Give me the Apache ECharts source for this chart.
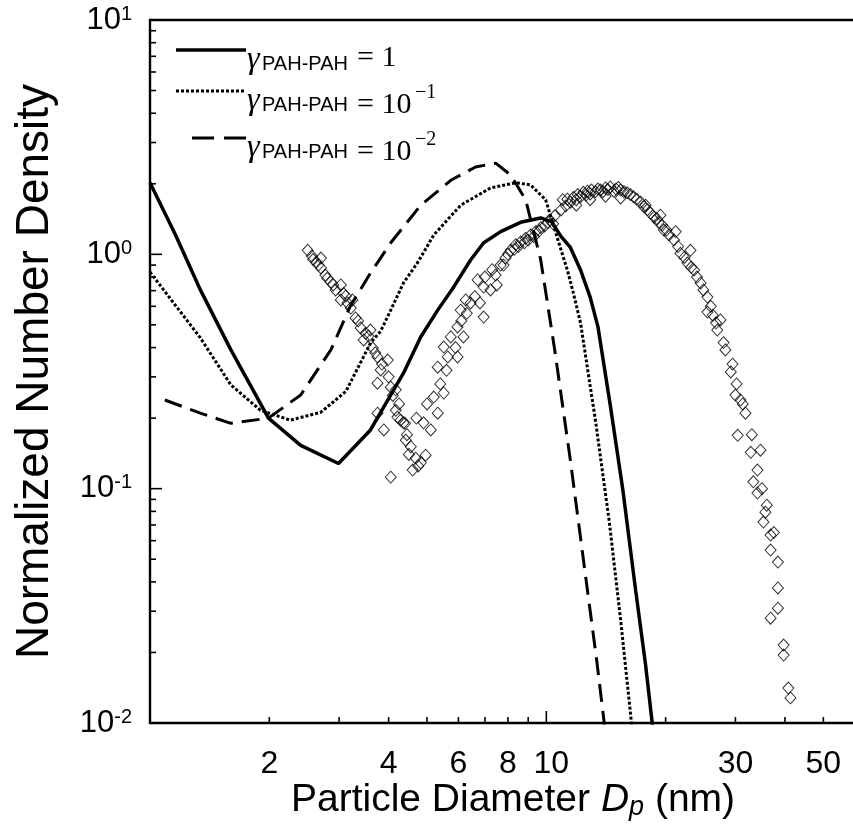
<!DOCTYPE html>
<html><head><meta charset="utf-8">
<script src="https://cdn.jsdelivr.net/npm/echarts@6/dist/echarts.min.js"></script>
<style>html,body{margin:0;padding:0;background:#fff}#c{width:853px;height:839px}</style>
</head><body><div id="c"></div>
<script>
// ---- tick definitions ----
const xMinorTicks = [2, 3, 4, 5, 6, 7, 8, 9, 20, 30, 40, 50];
const xMajorTicks = [10];
const xTickLabels = [2, 4, 6, 8, 10, 30, 50];
const yMinorTicks = [0.02,0.03,0.04,0.05,0.06,0.07,0.08,0.09,0.2,0.3,0.4,0.5,0.6,0.7,0.8,0.9,2,3,4,5,6,7,8,9];
const yMajorTicks = [0.1, 1];

// ---- legend labels ----
const legendSub = 'PAH-PAH';
const legendValues = ['= 1', '= 10', '= 10'];
const legendExps = ['', '\u22121', '\u22122'];

// ---- model curves (Dp nm, normalized number density) ----
const gamma1 = [[1.00,2.02],[1.16,1.21],[1.34,0.705],[1.60,0.391],[1.99,0.200],[2.40,0.153],[2.99,0.128],
  [3.60,0.178],[4.36,0.311],[4.82,0.444],[5.32,0.578],[5.84,0.726],[6.44,0.946],[6.95,1.12],[7.67,1.25],
  [8.61,1.37],[9.68,1.43],[10.3,1.38],[10.9,1.19],[11.5,1.07],[12.2,0.857],[12.9,0.657],[13.5,0.490],
  [14.5,0.227],[15.6,0.0986],[16.8,0.0369],[17.8,0.0177],[18.5,0.0100],[18.8,0.008]];
const gamma01 = [[1.00,0.84],[1.34,0.440],[1.60,0.277],[1.90,0.216],[2.26,0.196],[2.70,0.212],[3.12,0.260],
  [3.60,0.418],[3.82,0.47],[4.05,0.578],[4.36,0.755],[4.75,0.93],[5.20,1.21],[6.08,1.62],[7.23,1.92],
  [8.37,2.02],[9.12,1.98],[9.96,1.71],[10.9,1.04],[11.3,0.857],[11.7,0.684],[12.2,0.509],[13.3,0.196],
  [14.4,0.0734],[15.4,0.0275],[16.4,0.0100],[16.6,0.008]];
const gamma001 = [[1.09,0.239],[1.34,0.210],[1.60,0.190],[1.99,0.200],[2.40,0.251],[2.86,0.391],[3.20,0.60],
  [3.60,0.832],[4.05,1.12],[4.82,1.62],[5.74,2.07],[6.63,2.36],[7.45,2.45],[8.13,2.18],[8.87,1.71],
  [9.68,0.946],[10.5,0.391],[11.5,0.132],[12.6,0.0407],[13.4,0.0185],[14.0,0.0100],[14.1,0.008]];

// ---- measured data (diamonds) ----
const measured = [
  [2.50,1.04],[2.56,0.983],[2.63,0.927],[2.70,0.875],[2.77,0.816],[2.86,0.762],[2.94,0.705],[3.03,0.639],
  [3.12,0.664],[3.21,0.590],[3.30,0.535],[3.40,0.485],[3.46,0.431],[3.56,0.448],[3.65,0.398],[3.75,0.365],
  [3.98,0.354],[3.75,0.282],[4.05,0.271],[3.60,0.475],[3.75,0.210],[4.17,0.216],[4.29,0.196],[4.42,0.161],
  [4.55,0.151],[4.68,0.135],[4.82,0.129],[4.60,0.120],[4.96,0.139],[3.24,0.639],[3.03,0.740],[2.70,0.964],
  [3.82,0.321],[4.17,0.264],
  [2.58,0.95],[2.66,0.90],[2.80,0.79],[2.90,0.74],[3.08,0.68],[3.15,0.62],[3.35,0.52],[3.50,0.46],
  [3.70,0.38],[3.85,0.34],[4.00,0.30],[4.10,0.25],[4.25,0.23],[4.40,0.19],[4.50,0.14],[4.75,0.125],
  [3.89,0.178],[4.05,0.112],[4.36,0.191],[4.21,0.202],[4.90,0.191],[5.11,0.178],[5.32,0.210],[5.20,0.246],
  [5.51,0.256],[5.32,0.330],[5.51,0.402],[5.64,0.365],[5.74,0.444],[5.97,0.490],[6.18,0.444],[5.97,0.365],
  [6.44,0.620],[6.71,0.778],[6.95,0.725],[6.95,0.540],[7.23,0.705],[7.45,0.816],[7.67,0.900],[7.89,0.964],
  [4.45,0.17],[4.70,0.20],[5.00,0.23],[5.40,0.28],[5.60,0.32],[5.90,0.40],[6.10,0.52],[6.30,0.56],
  [6.60,0.66],[6.80,0.62],[7.00,0.80],[7.30,0.86],[7.50,0.74],[7.80,0.90],[8.00,1.00],[8.30,1.05],
  [8.50,1.08],[8.80,1.12],[9.00,1.15],[9.30,1.19],[9.60,1.26],[9.90,1.32],[10.2,1.40],[10.4,1.35],
  [8.13,1.04],[8.37,1.10],[8.61,1.13],[8.87,1.17],[9.12,1.21],[9.40,1.25],[9.68,1.30],[10.1,1.37],
  [10.5,1.46],[10.9,1.55],[11.2,1.61],[11.5,1.67],[11.9,1.71],[12.2,1.76],[12.6,1.79],[12.9,1.81],
  [13.3,1.85],[13.7,1.88],[14.1,1.92],[14.5,1.94],[15.0,1.90],[15.4,1.88],[16.0,1.83],[16.6,1.76],
  [17.3,1.67],[18.0,1.55],[18.7,1.44],[19.2,1.37],[19.8,1.27],[20.4,1.21],[21.0,1.15],[21.8,1.01],
  [11.3,1.72],[11.7,1.75],[12.0,1.80],[12.4,1.84],[12.7,1.86],[13.0,1.88],[13.5,1.90],[13.9,1.85],
  [14.3,1.89],[14.8,1.86],[15.2,1.93],[15.7,1.85],[16.3,1.80],[16.9,1.72],[17.6,1.60],[18.3,1.50],
  [19.0,1.42],[19.6,1.33],[20.1,1.27],
  [22.7,0.918],[23.6,0.857],[24.5,0.755],[24.9,0.705],[25.5,0.657],[25.5,0.567],[26.3,0.550],[27.0,0.475],
  [28.3,0.391],[29.2,0.315],[30.0,0.251],[31.8,0.210],[30.4,0.169],[32.8,0.143],[34.1,0.120],[33.3,0.107],
  [34.1,0.0958],[35.7,0.0794],[35.3,0.0720],[36.8,0.0634],[36.8,0.0547],[38.4,0.0486],[38.4,0.0377],
  [38.4,0.0309],[36.8,0.0280],[39.7,0.0215],[39.7,0.0195],[40.8,0.0141],[41.3,0.0128],
  [21.5,1.08],[22.3,0.97],[23.2,0.88],[24.0,0.80],[26.0,0.60],[26.8,0.51],[28.0,0.42],[29.5,0.34],
  [30.2,0.28],[31.3,0.23],[33.0,0.17],[35.0,0.10],[36.0,0.085],[37.5,0.065],
  [11.0,1.71],[11.9,1.62],[12.9,1.71],[14.1,1.77],[15.4,1.74],[17.8,1.62],[19.4,1.47],[21.2,1.25],
  [23.1,1.04],[27.5,0.525],[30.9,0.239],[34.7,0.146],[6.08,0.578],[6.26,0.639]
];

const X_MIN = 1, X_MAX = 59.4, Y_MIN = 0.01, Y_MAX = 10;
const SANS = '"Liberation Sans", Arial, sans-serif';
const SERIF = '"Liberation Serif", "Times New Roman", serif';

const chart = echarts.init(document.getElementById('c'), null, {renderer: 'canvas'});

function tickSeries(values, axis, len) {
  return {
    type: 'custom', coordinateSystem: 'cartesian2d', silent: true, z: 5,
    data: values.map(v => axis === 'x' ? [v, Y_MIN] : [X_MIN, v]),
    renderItem: (params, api) => {
      const p = api.coord([api.value(0), api.value(1)]);
      const shape = axis === 'x'
        ? {x1: p[0], y1: p[1], x2: p[0], y2: p[1] - len}
        : {x1: p[0], y1: p[1], x2: p[0] + len, y2: p[1]};
      return {type: 'line', shape, style: {stroke: '#000', lineWidth: 1.6}};
    }
  };
}

const option = {
  animation: false,
  backgroundColor: '#fff',
  grid: {left: 150, top: 20, width: 703, bottom: 116, containLabel: false},
  xAxis: [{
    type: 'log', logBase: 10, min: X_MIN, max: X_MAX,
    axisLine: {show: true, lineStyle: {color: '#000', width: 2.4}},
    axisTick: {show: false}, axisLabel: {show: false}, splitLine: {show: false}
  }, {
    type: 'log', min: X_MIN, max: X_MAX, position: 'top',
    axisLine: {show: true, onZero: false, lineStyle: {color: '#000', width: 2.4}},
    axisTick: {show: false}, axisLabel: {show: false}, splitLine: {show: false}
  }],
  yAxis: {
    type: 'log', logBase: 10, min: Y_MIN, max: Y_MAX,
    axisLine: {show: true, lineStyle: {color: '#000', width: 2.4}},
    axisTick: {show: false}, splitLine: {show: false},
    axisLabel: {
      margin: 18, color: '#000',
      formatter: v => '{b|10}{s|' + Math.round(Math.log10(v)) + '}',
      rich: {
        b: {fontFamily: SANS, fontSize: 31, color: '#000'},
        s: {fontFamily: SANS, fontSize: 20, color: '#000', verticalAlign: 'top', padding: [0, 0, 12, 0]}
      }
    },
    name: 'Normalized Number Density', nameLocation: 'middle', nameGap: 92,
    nameTextStyle: {fontFamily: SANS, fontSize: 46, color: '#000', padding: [0, 0, 0, 0]}
  },
  graphic: [],
  series: [
    {type: 'scatter', data: measured, symbol: 'diamond', symbolSize: [11, 12], z: 2,
     itemStyle: {color: 'rgba(0,0,0,0)', borderColor: '#000', borderWidth: 1}},
    {type: 'line', data: gamma1, symbol: 'none', z: 3, lineStyle: {color: '#000', width: 3.5}},
    {type: 'line', data: gamma01, symbol: 'none', z: 3, lineStyle: {color: '#000', width: 3, type: [3, 2]}},
    {type: 'line', data: gamma001, symbol: 'none', z: 3, lineStyle: {color: '#000', width: 3, type: [18, 9]}},
    tickSeries(xMinorTicks, 'x', 6),
    tickSeries(xMajorTicks, 'x', 12),
    tickSeries(yMinorTicks, 'y', 6),
    tickSeries(yMajorTicks, 'y', 12),
    {
      type: 'custom', coordinateSystem: 'cartesian2d', silent: true,
      data: xTickLabels.map(v => [v, Y_MIN]),
      renderItem: (params, api) => {
        const p = api.coord([api.value(0), api.value(1)]);
        return {type: 'text', x: p[0] + (api.value(0) === 10 ? 5 : 0), y: p[1] + 41,
          style: {text: String(api.value(0)), fill: '#000', font: '32px ' + SANS, align: 'center', verticalAlign: 'middle'}};
      }
    }
  ]
};

// x axis title with italic D and subscript p
option.graphic.push({
  type: 'text', x: 513, y: 800,
  style: {
    text: '{n|Particle Diameter }{d|D}{p|p}{n| (nm)}',
    align: 'center', verticalAlign: 'middle',
    rich: {
      n: {fontFamily: SANS, fontSize: 39, fill: '#000'},
      d: {fontFamily: SANS, fontSize: 39, fontStyle: 'italic', fill: '#000'},
      p: {fontFamily: SANS, fontSize: 27, fontStyle: 'italic', fill: '#000', verticalAlign: 'bottom', padding: [15, 0, 0, 0]}
    }
  }
});

// legend
const legendY = [50, 91, 138];
const legendDash = [null, [3, 2], [22, 10]];
const legendX1 = [176, 176, 192];
legendY.forEach((ly, i) => {
  option.graphic.push({type: 'line', shape: {x1: legendX1[i], y1: ly, x2: 246, y2: ly},
    style: {stroke: '#000', lineWidth: i === 0 ? 3.5 : 3, lineDash: legendDash[i]}});
  option.graphic.push({type: 'text', x: 247, y: ly + 10,
    style: {text: '\u03b3', font: 'italic 32px ' + SERIF, fill: '#000', verticalAlign: 'middle'}});
  option.graphic.push({type: 'text', x: 262, y: ly + 14,
    style: {text: legendSub, font: '20px ' + SANS, fill: '#000', verticalAlign: 'middle'}});
  option.graphic.push({type: 'text', x: 357, y: ly + 8 + (i ? 6 : 0),
    style: {text: legendValues[i], font: '30px ' + SERIF, fill: '#000', verticalAlign: 'middle'}});
  if (legendExps[i]) {
    option.graphic.push({type: 'text', x: 415, y: ly + 2,
      style: {text: legendExps[i], font: '20px ' + SERIF, fill: '#000', verticalAlign: 'middle'}});
  }
});

chart.setOption(option);
</script></body></html>
